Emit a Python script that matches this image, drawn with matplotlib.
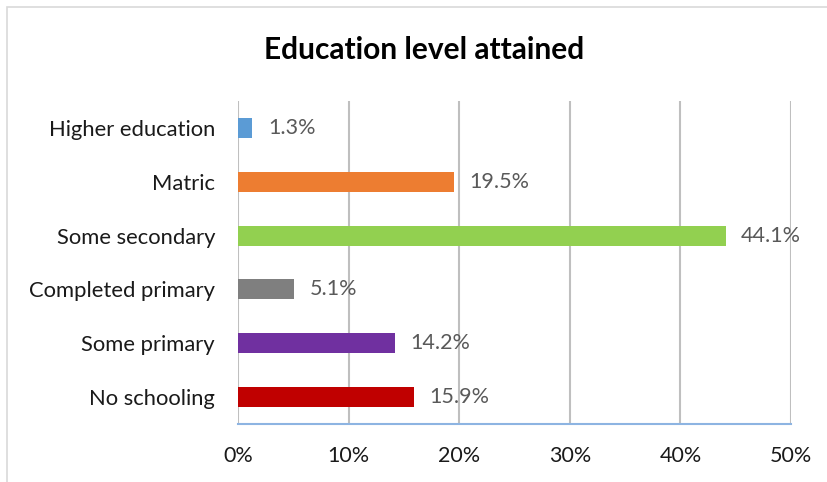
import matplotlib.pyplot as plt
from matplotlib.patches import Rectangle

categories = ["No schooling", "Some primary", "Completed primary",
              "Some secondary", "Matric", "Higher education"]
values = [15.9, 14.2, 5.1, 44.1, 19.5, 1.3]
colors = ["#C00000", "#7030A0", "#7F7F7F", "#92D050", "#ED7D31", "#5B9BD5"]
xticks = [0, 10, 20, 30, 40, 50]

plt.rcParams['font.family'] = ['Lato', 'DejaVu Sans']

fig = plt.figure(figsize=(8.28, 4.82), dpi=100)
ax = fig.add_axes([238 / 828, 1 - 424 / 482, (791 - 238) / 828, (424 - 101) / 482])

# outer chart border
fig.patches.append(Rectangle((7 / 828, -0.1), 1.2, 1 - 7 / 482 + 0.1,
                             transform=fig.transFigure, fill=False,
                             edgecolor="#D9D9D9", linewidth=1.2))

ypos = range(len(categories))
ax.barh(ypos, values, height=0.37, color=colors, zorder=3)

for y, v in zip(ypos, values):
    ax.text(v + 1.4, y, f"{v}%", va="center", ha="left",
            fontsize=15.5, color="#595959", zorder=4)

ax.set_xlim(0, 50)
ax.set_ylim(-0.5, len(categories) - 0.5)
ax.set_xticks(xticks)
ax.set_xticklabels([f"{t}%" for t in xticks], fontsize=15.5, color="#1a1a1a")
ax.set_yticks(list(ypos))
ax.set_yticklabels(categories, fontsize=15.8, color="#1a1a1a")
ax.tick_params(axis="both", length=0)
ax.tick_params(axis="x", pad=16)
ax.tick_params(axis="y", pad=16.5)

ax.grid(axis="x", color="#BFBFBF", linewidth=1.5, zorder=0)
for s in ["top", "right", "left"]:
    ax.spines[s].set_visible(False)
ax.spines["bottom"].set_color("#8DB4E2")
ax.spines["bottom"].set_linewidth(1.5)
ax.spines["bottom"].set_zorder(5)

fig.text(424 / 828, 1 - 50 / 482, "Education level attained", ha="center",
         va="center", fontsize=21.5, fontweight="bold", color="black")

fig.savefig("out.png", dpi=100)
